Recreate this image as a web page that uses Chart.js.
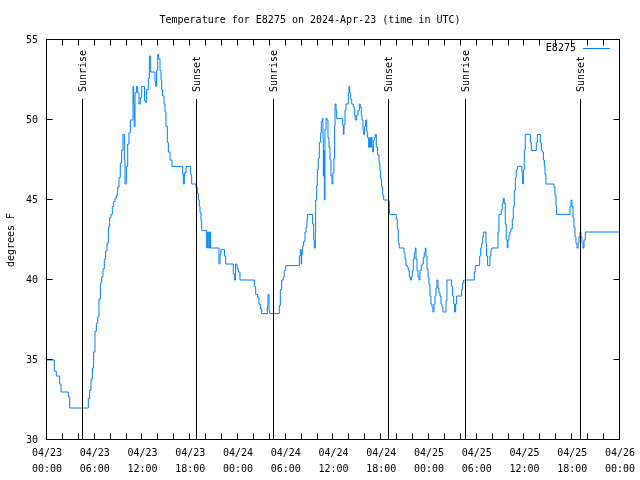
<!DOCTYPE html>
<html>
<head>
<meta charset="UTF-8">
<title>Temperature for E8275</title>
<style>
  body { margin: 0; background: #fff; }
  canvas { display: block; }
</style>
</head>
<body>
<canvas id="chart" width="640" height="480"></canvas>
<script src="https://cdn.jsdelivr.net/npm/chart.js@4.4.1/dist/chart.umd.min.js"></script>
<script>
// hours since 2024-04-23 00:00 UTC, and the reading (deg F) that starts at that time
const hours = [
  0, 0.92, 1.17, 1.59, 1.76, 2.68, 2.85, 5.19, 5.36, 5.53, 5.70, 5.86, 6.03, 6.20, 6.37, 6.53, 6.70, 6.87, 7.04, 7.20,
  7.37, 7.54, 7.71, 7.87, 8.04, 8.21, 8.38, 8.55, 8.71, 8.88, 9.05, 9.21, 9.38, 9.55, 9.72, 9.80, 9.97, 10.14, 10.30, 10.47,
  10.81, 10.89, 10.97, 11.06, 11.23, 11.39, 11.56, 11.73, 11.90, 12.25, 12.40, 12.52, 12.73, 12.86, 13.03, 13.57, 13.66, 13.78, 13.91, 14.03,
  14.20, 14.33, 14.41, 14.53, 14.70, 14.83, 14.95, 15.12, 15.25, 15.46, 15.71, 17.05, 17.13, 17.26, 17.47, 18.05, 18.18, 18.72, 18.89, 19.02,
  19.14, 19.23, 19.35, 19.44, 20.06, 20.15, 20.27, 20.40, 20.55, 21.61, 21.74, 21.86, 22.30, 22.45, 23.41, 23.54, 23.70, 23.90, 24.04, 24.25,
  26.05, 26.22, 26.47, 26.64, 26.81, 26.97, 27.69, 27.77, 27.90, 27.98, 29.19, 29.32, 29.49, 29.70, 29.82, 29.99, 31.71, 31.83, 31.96, 32.00,
  32.13, 32.25, 32.42, 32.55, 32.67, 32.75, 33.38, 33.51, 33.59, 33.72, 33.76, 33.89, 33.97, 34.09, 34.22, 34.39, 34.47, 34.60, 34.68, 34.72,
  34.80, 34.85, 34.93, 35.06, 35.18, 35.31, 35.43, 35.56, 35.68, 35.81, 35.93, 36.06, 36.14, 36.20, 36.32, 36.40, 37.15, 37.24, 37.32, 37.45,
  37.57, 37.87, 37.95, 38.03, 38.16, 38.29, 38.49, 38.62, 38.74, 38.91, 39.08, 39.25, 39.37, 39.50, 39.58, 39.71, 39.79, 39.92, 40.04, 40.17,
  40.29, 40.42, 40.55, 40.67, 40.76, 40.84, 40.92, 41.01, 41.13, 41.26, 41.38, 41.55, 41.72, 41.84, 41.93, 42.05, 42.18, 42.31, 42.93, 43.02,
  43.90, 44.02, 44.15, 44.27, 44.86, 44.99, 45.11, 45.28, 45.40, 45.53, 45.66, 45.78, 45.91, 46.03, 46.16, 46.28, 46.37, 46.50, 46.62, 46.75,
  46.87, 47.04, 47.16, 47.29, 47.41, 47.54, 47.62, 47.75, 47.88, 48.00, 48.13, 48.25, 48.38, 48.50, 48.63, 48.76, 48.88, 49.01, 49.13, 49.26,
  49.38, 49.51, 49.64, 49.76, 50.14, 50.26, 50.85, 50.97, 51.10, 51.22, 51.35, 51.48, 52.11, 52.23, 52.36, 53.70, 53.82, 54.37, 54.50, 54.62,
  54.75, 54.87, 55.16, 55.24, 55.37, 55.66, 55.79, 55.91, 56.67, 56.79, 57.08, 57.21, 57.34, 57.46, 57.59, 57.71, 57.84, 57.92, 58.05, 58.17,
  58.30, 58.47, 58.60, 58.72, 58.85, 58.97, 59.14, 59.67, 59.77, 59.86, 59.98, 60.10, 60.74, 60.86, 61.49, 61.62, 61.99, 62.12, 62.24, 62.37,
  62.50, 62.58, 62.70, 63.71, 63.83, 63.96, 64.04, 65.72, 65.85, 65.97, 66.10, 66.22, 66.35, 66.47, 66.60, 66.73, 66.85, 66.98, 67.10, 67.23,
  67.36, 67.48, 67.65, 71.92
];
const tempF = [
  35.0, 34.3, 34.0, 33.5, 33.0, 32.7, 32.0, 32.6, 33.1, 33.8, 34.5, 35.5, 36.8, 37.3, 37.7, 38.8, 39.8, 40.2, 40.7, 41.3,
  41.8, 42.3, 43.3, 43.9, 44.1, 44.6, 44.9, 45.1, 45.3, 45.8, 46.4, 47.3, 48.1, 49.1, 47.5, 46.0, 47.1, 48.5, 49.2, 50.0,
  52.1, 51.0, 49.6, 51.7, 52.1, 51.7, 51.0, 51.4, 52.1, 51.2, 51.1, 51.9, 52.6, 54.0, 53.0, 52.4, 52.1, 53.1, 54.1, 53.8,
  53.1, 52.5, 51.9, 51.5, 51.0, 50.5, 49.6, 48.6, 48.0, 47.5, 47.1, 46.6, 46.0, 46.7, 47.1, 46.6, 46.0, 45.8, 45.4, 45.0,
  44.6, 44.2, 43.7, 43.1, 42.0, 43.0, 42.0, 43.0, 42.0, 41.0, 41.6, 41.9, 41.5, 41.0, 40.4, 40.0, 41.0, 40.7, 40.5, 40.0,
  39.6, 39.1, 38.9, 38.5, 38.2, 37.9, 38.4, 39.1, 38.1, 37.9, 38.4, 39.4, 40.0, 40.2, 40.6, 40.9, 41.5, 41.9, 41.0, 41.6,
  42.1, 42.4, 43.0, 43.3, 43.8, 44.1, 43.5, 42.5, 42.0, 43.0, 45.0, 45.9, 46.9, 47.6, 48.6, 49.2, 49.9, 50.1, 48.9, 46.5,
  48.1, 45.0, 49.4, 50.1, 50.0, 48.9, 48.3, 47.5, 46.5, 46.0, 46.7, 47.6, 49.6, 51.0, 50.6, 50.1, 49.7, 49.1, 49.7, 50.6,
  51.0, 51.7, 52.1, 51.7, 51.3, 51.0, 50.8, 50.3, 50.0, 50.3, 50.6, 51.0, 50.8, 50.3, 50.0, 49.4, 49.1, 49.6, 50.0, 49.3,
  48.9, 48.3, 48.9, 48.3, 48.9, 48.3, 48.0, 48.7, 48.9, 49.1, 48.3, 47.8, 47.3, 46.8, 46.3, 45.8, 45.3, 45.0, 44.9, 44.1,
  43.8, 43.2, 42.3, 42.0, 41.7, 41.3, 40.9, 40.8, 40.6, 40.2, 40.0, 40.2, 40.6, 41.3, 41.7, 42.0, 41.3, 40.6, 40.2, 40.0,
  40.6, 40.9, 41.0, 41.4, 41.7, 42.0, 41.5, 40.7, 40.2, 39.7, 39.0, 38.5, 38.3, 38.0, 38.5, 39.0, 39.5, 40.0, 39.5, 39.2,
  39.0, 38.5, 38.3, 38.0, 38.7, 40.0, 39.6, 39.0, 38.5, 38.0, 38.5, 39.0, 39.4, 39.8, 40.0, 40.5, 40.9, 41.5, 42.0, 42.3,
  42.7, 43.0, 42.3, 41.5, 40.9, 41.5, 41.9, 42.0, 43.0, 44.1, 44.4, 44.8, 45.1, 44.8, 43.5, 42.5, 42.0, 42.5, 42.8, 43.0,
  43.2, 43.8, 44.6, 45.6, 46.4, 46.9, 47.1, 46.7, 46.0, 46.9, 48.1, 49.1, 48.6, 48.1, 48.6, 49.1, 48.6, 48.1, 48.0, 47.5,
  47.1, 46.6, 46.0, 45.8, 45.3, 44.6, 44.1, 44.6, 45.0, 44.6, 43.9, 43.3, 42.7, 42.3, 42.0, 42.3, 42.7, 43.0, 42.7, 42.3,
  42.0, 42.5, 43.0, 43.0
];

const xTickHours = [0, 6, 12, 18, 24, 30, 36, 42, 48, 54, 60, 66, 72];
const xTickDates = ['04/23', '04/23', '04/23', '04/23', '04/24', '04/24', '04/24', '04/24', '04/25', '04/25', '04/25', '04/25', '04/26'];
const xTickTimes = ['00:00', '06:00', '12:00', '18:00', '00:00', '06:00', '12:00', '18:00', '00:00', '06:00', '12:00', '18:00', '00:00'];

const sunHours = [4.43, 18.72, 28.43, 42.88, 52.55, 66.95];
const sunNames = ['Sunrise', 'Sunset', 'Sunrise', 'Sunset', 'Sunrise', 'Sunset'];

const seriesName = 'E8275';
const FONT = 'DejaVu Sans Mono';
const LINE_COLOR = 'rgb(0, 128, 255)';

const gnuplotFrame = {
  id: 'gnuplotFrame',
  afterDatasetsDraw(chart) {
    const { ctx, chartArea: a, scales: { x } } = chart;
    ctx.save();
    ctx.strokeStyle = '#000';
    ctx.lineWidth = 1;
    ctx.fillStyle = '#000';
    ctx.font = '10px ' + FONT;
    sunHours.forEach((h, i) => {
      const px = Math.round(x.getPixelForValue(h)) + 0.5;
      ctx.beginPath();
      ctx.moveTo(px, a.bottom);
      ctx.lineTo(px, a.top + 59);
      ctx.stroke();
      ctx.save();
      ctx.translate(px + 1, a.top + 52);
      ctx.rotate(-Math.PI / 2);
      ctx.textAlign = 'left';
      ctx.textBaseline = 'middle';
      ctx.fillText(sunNames[i], 0, 0);
      ctx.restore();
    });
    ctx.restore();
  },
  afterDraw(chart) {
    const { ctx, chartArea: a, scales: { x, y } } = chart;
    ctx.save();
    ctx.strokeStyle = '#000';
    ctx.lineWidth = 1;
    const L = Math.round(a.left) - 0.5, R = Math.round(a.right) - 0.5;
    const T = Math.round(a.top) - 0.5, B = Math.round(a.bottom) - 0.5;
    ctx.strokeRect(L, T, R - L, B - T);
    ctx.beginPath();
    x.ticks.forEach(t => {
      const px = Math.round(x.getPixelForValue(t.value)) - 0.5;
      ctx.moveTo(px, B); ctx.lineTo(px, B - 6);
      ctx.moveTo(px, T); ctx.lineTo(px, T + 6);
    });
    y.ticks.forEach(t => {
      const py = Math.round(y.getPixelForValue(t.value)) - 0.5;
      ctx.moveTo(L, py); ctx.lineTo(L + 6, py);
      ctx.moveTo(R, py); ctx.lineTo(R - 6, py);
    });
    ctx.stroke();

    // legend: name then line sample, top right
    ctx.fillStyle = '#000';
    ctx.font = '10px ' + FONT;
    ctx.textAlign = 'right';
    ctx.textBaseline = 'middle';
    ctx.fillText(seriesName, a.right - 44, a.top + 8);
    ctx.strokeStyle = LINE_COLOR;
    ctx.beginPath();
    ctx.moveTo(a.right - 37, a.top + 8.5);
    ctx.lineTo(a.right - 10, a.top + 8.5);
    ctx.stroke();
    ctx.restore();
  }
};

new Chart(document.getElementById('chart'), {
  type: 'line',
  data: {
    datasets: [{
      label: seriesName,
      data: hours.map((h, i) => ({ x: h, y: tempF[i] })),
      borderColor: LINE_COLOR,
      borderWidth: 1,
      pointRadius: 0,
      stepped: 'before',
      fill: false
    }]
  },
  options: {
    responsive: false,
    animation: false,
    devicePixelRatio: 1,
    layout: { padding: { left: 0, right: 20, top: 0, bottom: 0 } },
    plugins: {
      legend: { display: false },
      tooltip: { enabled: false },
      title: {
        display: true,
        text: 'Temperature for E8275 on 2024-Apr-23 (time in UTC)',
        color: '#000',
        font: { family: FONT, size: 10, weight: 'normal' },
        padding: { top: 14, bottom: 14 }
      }
    },
    scales: {
      x: {
        type: 'linear',
        min: 0,
        max: 72,
        grid: { display: false, drawTicks: false },
        border: { display: false },
        afterFit: s => { s.height = 40; },
        ticks: {
          stepSize: 2,
          autoSkip: false,
          maxRotation: 0,
          padding: 5,
          color: '#000',
          font: { family: FONT, size: 10, lineHeight: 1.6 },
          callback: v => {
            const i = xTickHours.indexOf(v);
            return i < 0 ? '' : [xTickDates[i], xTickTimes[i]];
          }
        }
      },
      y: {
        min: 30,
        max: 55,
        grid: { display: false, drawTicks: false },
        border: { display: false },
        afterFit: s => { s.width = 47; },
        ticks: {
          stepSize: 5,
          padding: 9,
          color: '#000',
          font: { family: FONT, size: 10 }
        },
        title: {
          display: true,
          text: 'degrees F',
          color: '#000',
          font: { family: FONT, size: 10 },
          padding: { top: 5, bottom: 0 }
        }
      }
    }
  },
  plugins: [gnuplotFrame]
});
</script>
</body>
</html>
